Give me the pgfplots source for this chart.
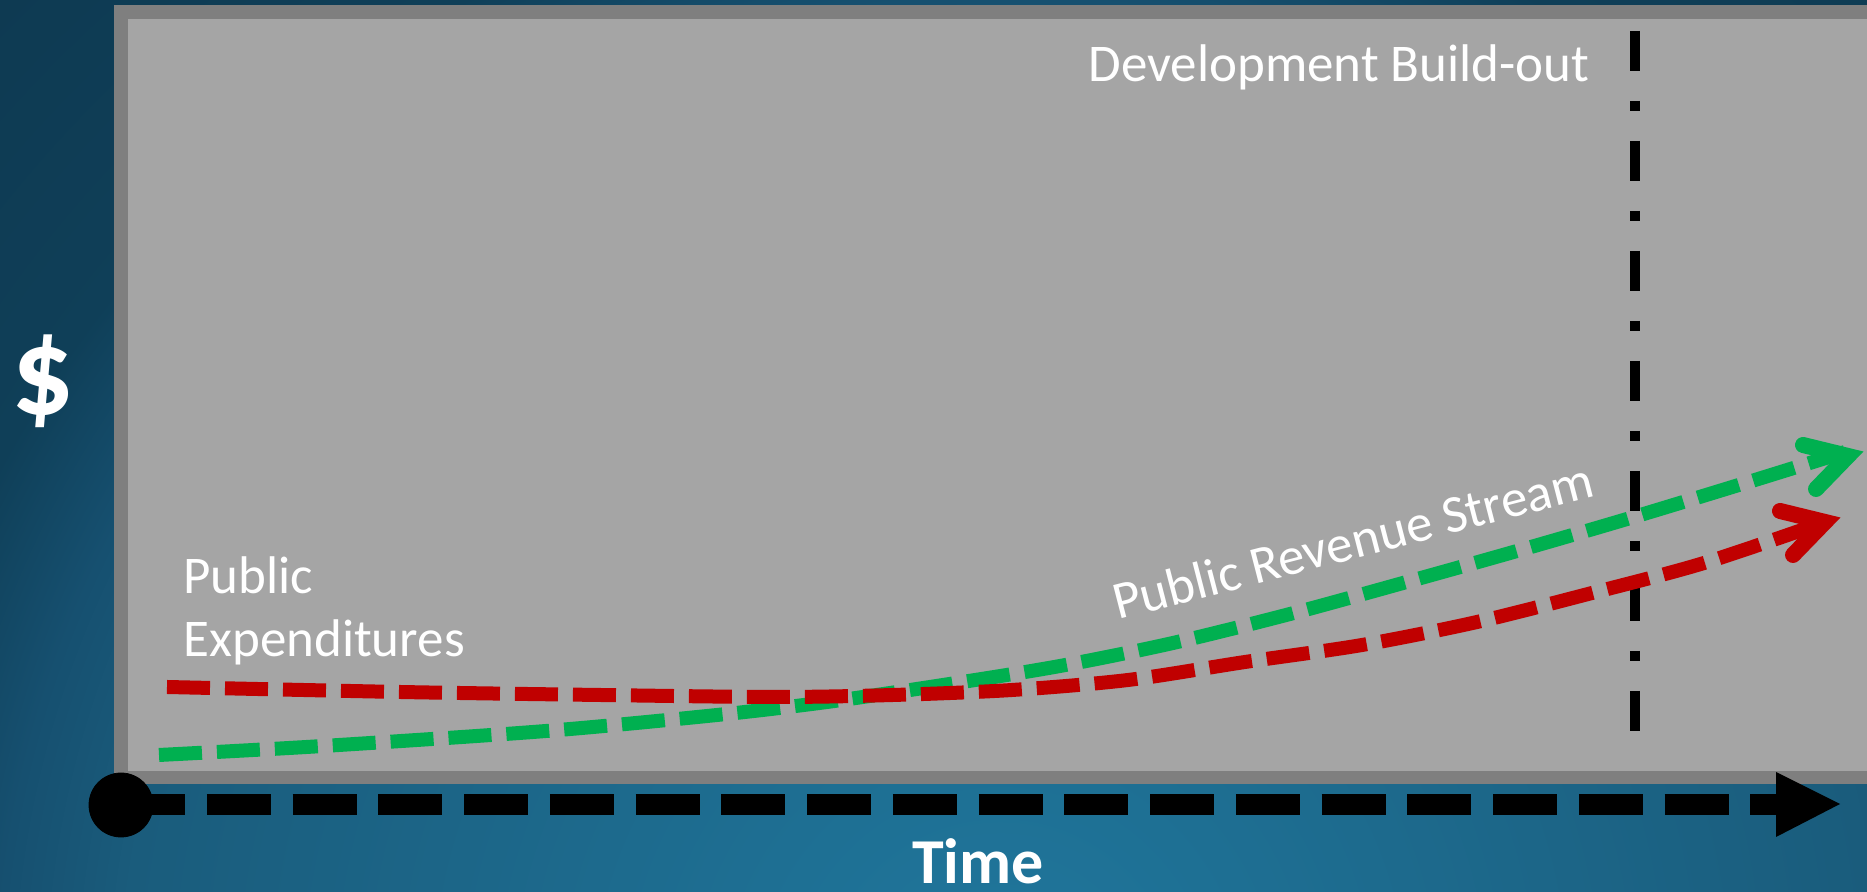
\documentclass[border=0pt]{standalone}
\usepackage{pgfplots}
\pgfplotsset{compat=1.18}
\usepackage{fontspec}
\setmainfont{Carlito}
\definecolor{bgA}{HTML}{2077A0}
\definecolor{bgB}{HTML}{1F7499}
\definecolor{bgC}{HTML}{1A5C7C}
\definecolor{bgD}{HTML}{165070}
\definecolor{bgE}{HTML}{0F3F58}
\definecolor{bgF}{HTML}{0E3A52}
\definecolor{boxborder}{HTML}{7F7F7F}
\definecolor{boxfill}{HTML}{A5A5A5}
\definecolor{expred}{HTML}{C00000}
\definecolor{revgreen}{HTML}{00B050}
\pgfdeclareradialshading{bgshade}{\pgfpoint{0bp}{0bp}}{color(0bp)=(bgA); color(1.67bp)=(bgB); color(14.6bp)=(bgC); color(16.7bp)=(bgD); color(18.9bp)=(bgE); color(23.6bp)=(bgF); color(50bp)=(bgF)}

% px -> axis units (y = 892 - pixel y); 1 px = 0.5pt
\pgfplotstableread{
x y
167 205
400 200
600 197
776 195
893 197
1012 202
1128 212
1245 230
1362 247
1477 270
1592 299
1704 329
1825 370
}\expenditures
\pgfplotstableread{
x y
159 137
323 146
546 161
717 177
827 190
943 207
1060 226
1173 249
1290 278
1403 309
1517 341
1627 373
1742 408
1845 440
}\revenue

\begin{document}
\begin{tikzpicture}
\begin{scope}
\clip (0,0) rectangle (933.5pt,446pt);
\fill[bgF] (0,0) rectangle (933.5pt,446pt);
\path[shading=bgshade] (500pt,-54pt) circle (750pt);
\end{scope}
\begin{axis}[
  scale only axis, width=933.5pt, height=446pt,
  xmin=0, xmax=1867, ymin=0, ymax=892,
  hide axis, clip=false,
]
% gray panel
\fill[boxborder] (axis cs:114,108) rectangle (axis cs:1867,887);
\fill[boxfill] (axis cs:128,121) rectangle (axis cs:1867,873);

% development build-out line
\addplot[black, line width=5pt, dash pattern=on 20pt off 15pt on 5pt off 15pt] coordinates {(1635,861) (1635,133)};

% public revenue stream
\addplot[revgreen, line width=7pt, dash pattern=on 21.5pt off 7.5pt, smooth] table {\revenue};
\addplot[revgreen, line width=8pt, line cap=round, line join=miter, solid] coordinates {(1803,447) (1848,436) (1816,403)};

% public expenditures
\addplot[expred, line width=7pt, dash pattern=on 21.5pt off 7.5pt, smooth] table {\expenditures};
\addplot[expred, line width=8pt, line cap=round, line join=miter, solid] coordinates {(1780,381) (1825,370) (1793,337)};

% time axis
\addplot[black, line width=10.5pt, dash pattern=on 32pt off 10.875pt] coordinates {(121,87) (1800,87)};
\addplot[black, only marks, mark=*, mark size=16pt] coordinates {(121,87)};
\fill[black] (axis cs:1776,120) -- (axis cs:1840,88) -- (axis cs:1776,55) -- cycle;

% labels
\node[anchor=base east, inner sep=0pt, text=white, font=\fontsize{26.5pt}{31pt}\selectfont] at (axis cs:1590,810) {Development Build-out};
\node[anchor=base west, inner sep=0pt, text=white, font=\fontsize{26.5pt}{31pt}\selectfont] at (axis cs:183,298) {Public};
\node[anchor=base west, inner sep=0pt, text=white, font=\fontsize{26.5pt}{31pt}\selectfont] at (axis cs:183,235) {Expenditures};
\node[anchor=base west, inner sep=0pt, rotate=14.5, text=white, font=\fontsize{26.5pt}{31pt}\selectfont] at (axis cs:1118,272) {Public Revenue Stream};
\node[anchor=base, inner sep=0pt, text=white, font=\bfseries\fontsize{32pt}{36pt}\selectfont] at (axis cs:978,8) {Time};
\node[anchor=center, inner sep=0pt, text=white, font=\bfseries\fontsize{62pt}{66pt}\selectfont] at (axis cs:43,511) {\$};
\end{axis}
\pgfresetboundingbox
\path[use as bounding box] (0,0) rectangle (933.5pt,446pt);
\end{tikzpicture}
\end{document}
